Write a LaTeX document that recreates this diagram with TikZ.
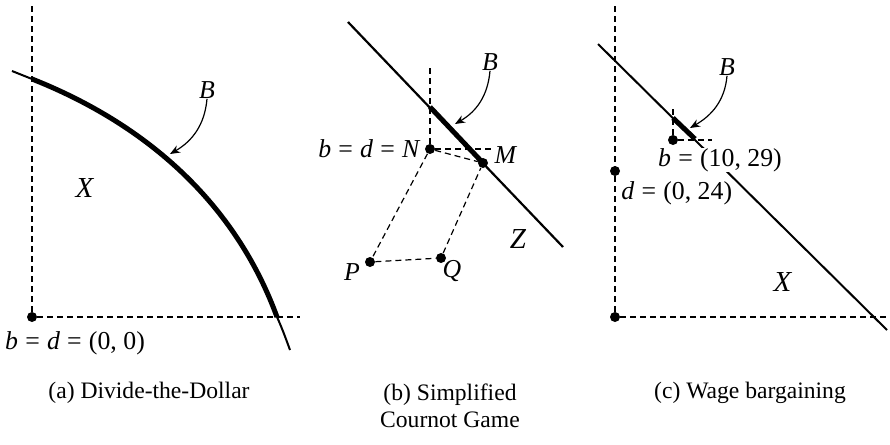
\documentclass[tikz,border=0pt]{standalone}
\usepackage{fontspec}
\setmainfont{Liberation Serif}
\usetikzlibrary{arrows.meta}
\newcommand{\eqs}{\hspace{0.28em}=\hspace{0.28em}}
\begin{document}
\begin{tikzpicture}[x=0.5pt,y=-0.5pt,
  font=\fontsize{11.8}{13.5}\selectfont,
  dot/.style={circle,fill=black,inner sep=0pt,minimum size=5pt},
  dsh/.style={line width=0.6pt,dash pattern=on 3pt off 2pt},
  thinl/.style={line width=1pt},
  thickl/.style={line width=2.5pt},
  lbl/.style={inner sep=0pt,font=\fontsize{12.9}{14}\selectfont},
  biglbl/.style={inner sep=0pt,font=\fontsize{14.5}{16}\selectfont},
  captxt/.style={inner sep=0pt},
  barrow/.style={line width=0.6pt,-{Stealth[length=5pt,width=4pt]}}]
\useasboundingbox (0,0) rectangle (890,445);
% ---------------- panel (a)
\node[dot] (Oa) at (32,317) {};
\coordinate (Oatop) at (32,5);
\coordinate (Oaright) at (300,317);
\draw[dsh] (Oa) -- (Oatop);
\draw[dsh] (Oa) -- (Oaright);
\coordinate (a0) at (12,71);
\coordinate (a1) at (32,79);
\coordinate (a2) at (277,317);
\coordinate (a3) at (290,350);
\draw[thinl] (a0) -- (a1);
\draw[thickl] (a1) .. controls (158,129) and (239,213) .. (a2);
\draw[thinl] (a2) .. controls (282,328) and (286,339) .. (a3);
\node[lbl] (Ba) at (207,90) {\textit{B}};
\coordinate (tipa) at (170,154);
\draw[barrow] (Ba.south) to[out=-95,in=30] (tipa);
\node[biglbl] (Xa) at (85,188) {\textit{X}};
\node[lbl] (La) at (75,343) {\textit{b}\eqs\textit{d}\eqs(0, 0)};
\node[captxt] (Ca) at (149,393) {(a) Divide-the-Dollar};
% ---------------- panel (b)
\coordinate (b0) at (348,22);
\coordinate (b1) at (563,247);
\draw[line width=1.1pt] (b0) -- (b1);
\node[dot] (N) at (430,149) {};
\node[dot] (M) at (483,163) {};
\node[dot] (P) at (370,262) {};
\node[dot] (Q) at (441,258) {};
\coordinate (bt) at (430,107);
\draw[thickl] (bt) -- (M.center);
\coordinate (Ntop) at (430,68);
\coordinate (Nright) at (492,149);
\draw[dsh] (N) -- (Ntop);
\draw[dsh] (N) -- (Nright);
\draw[dsh] (N) -- (M);
\draw[dsh] (N) -- (P);
\draw[dsh] (P) -- (Q);
\draw[dsh] (Q) -- (M);
\node[lbl,anchor=east] (LN) at (421,149) {\textit{b}\eqs\textit{d}\eqs\textit{N}};
\node[lbl] (LM) at (506,155) {\textit{M}};
\node[lbl] (LP) at (352,272) {\textit{P}};
\node[lbl] (LQ) at (452,271) {\textit{Q}};
\node[biglbl] (Zb) at (518,239) {\textit{Z}};
\node[lbl] (Bb) at (490,62) {\textit{B}};
\coordinate (tipb) at (455,124);
\draw[barrow] (Bb.south) to[out=-95,in=30] (tipb);
\node[captxt,align=center] (Cb) at (450,406) {(b) Simplified\\Cournot Game};
% ---------------- panel (c)
\node[dot] (Oc) at (615,317) {};
\coordinate (Octop) at (615,5);
\coordinate (Ocright) at (888,317);
\draw[dsh] (Oc) -- (Octop);
\draw[dsh] (Oc) -- (Ocright);
\node[dot] (dc) at (615,171) {};
\coordinate (c0) at (598,44);
\coordinate (c1) at (887,330);
\draw[thinl] (c0) -- (c1);
\node[lbl,fill=white] (Lb) at (720,160) {\textit{b}\eqs(10, 29)};
\node[dot] (bc) at (673,140) {};
\coordinate (ct) at (673,118);
\coordinate (cb) at (695,139);
\draw[thickl] (ct) -- (cb);
\coordinate (bctop) at (673,105);
\coordinate (bcright) at (712,140);
\draw[dsh] (bc) -- (bctop);
\draw[dsh] (bc) -- (bcright);
\node[lbl,anchor=west] (Ld) at (621,193) {\textit{d}\eqs(0, 24)};
\node[biglbl] (Xc) at (783,282) {\textit{X}};
\node[lbl] (Bc) at (727,67) {\textit{B}};
\coordinate (tipc) at (690,128);
\draw[barrow] (Bc.south) to[out=-95,in=30] (tipc);
\node[captxt] (Cc) at (750,393) {(c) Wage bargaining};
\end{tikzpicture}
\end{document}
